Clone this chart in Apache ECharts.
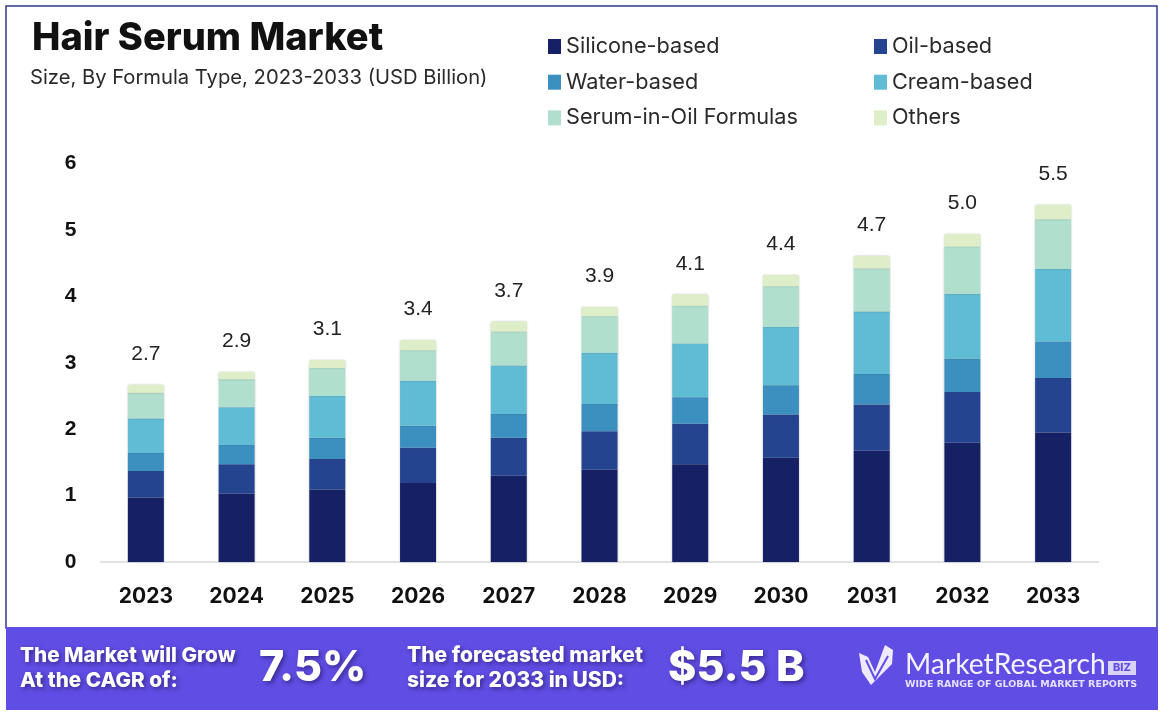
<!DOCTYPE html>
<html><head><meta charset="utf-8">
<style>html,body{margin:0;padding:0;background:#fff}#c{width:1166px;height:720px}</style>
<script src="https://cdn.jsdelivr.net/npm/echarts@6/dist/echarts.min.js"></script>
</head><body><div id="c"></div>
<script>
const years = ['2023','2024','2025','2026','2027','2028','2029','2030','2031','2032','2033'];
const siliconeBased = [0.97,1.03,1.09,1.19,1.30,1.39,1.47,1.57,1.68,1.80,1.95];
const oilBased      = [0.40,0.44,0.46,0.53,0.57,0.58,0.61,0.65,0.69,0.76,0.82];
const waterBased    = [0.27,0.29,0.32,0.33,0.36,0.41,0.40,0.44,0.46,0.50,0.55];
const creamBased    = [0.52,0.57,0.63,0.68,0.73,0.77,0.81,0.88,0.94,0.98,1.09];
const serumInOil    = [0.39,0.42,0.42,0.46,0.51,0.55,0.57,0.61,0.65,0.71,0.75];
const others        = [0.12,0.11,0.12,0.15,0.15,0.14,0.17,0.17,0.19,0.19,0.22];
const totalLabels   = ['2.7','2.9','3.1','3.4','3.7','3.9','4.1','4.4','4.7','5.0','5.5'];

const names = ['Silicone-based','Oil-based','Water-based','Cream-based','Serum-in-Oil Formulas','Others'];
const colors = ['#162065','#25448f','#3c90c0','#60bcd4','#b1dfcd','#deeec8'];
const values = [siliconeBased,oilBased,waterBased,creamBased,serumInOil,others];
const UI = 'Inter, "Noto Sans", sans-serif';

const series = names.map((n,i)=>({
  name:n, type:'bar', stack:'total', barWidth:36, data:values[i], animation:false,
  itemStyle:{color:colors[i], shadowColor:'rgba(60,60,80,0.28)', shadowBlur:2,
    borderRadius:i===5?[2,2,0,0]:0},
  label:i===5?{show:true, position:'top', distance:20,
    formatter:p=>totalLabels[p.dataIndex],
    fontFamily:'"Liberation Sans", Arial, sans-serif', fontSize:21, color:'#222'}:{show:false}
}));

const legendBase = {orient:'vertical', itemWidth:13, itemHeight:15, itemGap:13.7, icon:'rect',
  textStyle:{fontFamily:UI, fontSize:21.7, color:'#2a2a2a'}, selectedMode:false, padding:0};

const footerShadow = {textShadowColor:'rgba(30,20,90,0.6)', textShadowBlur:4, textShadowOffsetX:2, textShadowOffsetY:2};
function txt(x,y,s,size,weight,extra){
  return {type:'text', x, y, z:20, silent:true, style:Object.assign({text:s, fill:'#fff', fontFamily:UI, fontSize:size, fontWeight:weight}, extra||{})};
}

const chart = echarts.init(document.getElementById('c'), null, {renderer:'canvas'});
chart.setOption({
  animation:false,
  backgroundColor:'#fff',
  title:[
    {text:'Hair Serum Market', left:32, top:19.5, padding:0, textStyle:{fontFamily:UI, fontSize:38, fontWeight:800, color:'#111'}},
    {text:'Size, By Formula Type, 2023-2033 (USD Billion)', left:30, top:68, padding:0, textStyle:{fontFamily:UI, fontSize:20.2, fontWeight:400, color:'#2a2a2a'}}
  ],
  legend:[
    Object.assign({}, legendBase, {left:548, top:35.5, data:[names[0],names[2],names[4]]}),
    Object.assign({}, legendBase, {left:874, top:35.5, data:[names[1],names[3],names[5]]})
  ],
  grid:{left:100.5, right:67.5, top:163.5, height:398.5},
  xAxis:{type:'category', data:years,
    axisLine:{lineStyle:{color:'#d8d8de', width:1.5}}, axisTick:{show:false},
    axisLabel:{margin:24, fontFamily:UI, fontSize:21, fontWeight:700, color:'#111'}},
  yAxis:{type:'value', min:0, max:6, interval:1,
    axisLine:{show:false}, axisTick:{show:false}, splitLine:{show:false},
    axisLabel:{margin:24, fontFamily:'"Liberation Sans", Arial, sans-serif', fontSize:21, fontWeight:700, color:'#111', verticalAlignMinLabel:'middle', verticalAlignMaxLabel:'middle', padding:[2,0,0,0]}},
  series,
  graphic:{elements:[
    {type:'rect', silent:true, z:-1, shape:{x:6,y:6,width:1151,height:622}, style:{fill:'none', stroke:'#2f3a8f', lineWidth:1.5}},
    {type:'rect', silent:true, z:10, shape:{x:6,y:627,width:1152,height:83}, style:{fill:'#604de3'}},
    txt(20,645,'The Market will Grow',20.7,800,footerShadow),
    txt(20,670,'At the CAGR of:',20.7,800,footerShadow),
    txt(259,647,'7.5%',43,800,footerShadow),
    txt(407,645,'The forecasted market',21,800,footerShadow),
    txt(407,670,'size for 2033 in USD:',21,800,footerShadow),
    txt(668,647,'$5.5 B',43,800,footerShadow),
    {type:'polygon', z:20, silent:true, shape:{points:[[859,653],[868,657],[875,672],[885,645],[893,650],[892,664],[871,685],[862,672]]},
      style:{fill:'#efeaff'}},
    {type:'polyline', z:21, silent:true, shape:{points:[[866,660],[875,679],[888,656]]},
      style:{fill:'none', stroke:'#604de3', lineWidth:2}},
    txt(905,651,'MarketResearch',28.3,400,{fontFamily:'Lato, sans-serif', fill:'#f4f2ff'}),
    {type:'rect', z:20, silent:true, shape:{x:1108,y:661,width:28,height:14}, style:{fill:'#d8d3fb'}},
    txt(1113,662,'BIZ',11,800,{fill:'#604de3'}),
    txt(905,680,'WIDE RANGE OF GLOBAL MARKET REPORTS',9.5,700,{fill:'#e4e0ff', fontFamily:'"DejaVu Sans", sans-serif'})
  ]}
});
</script></body></html>
